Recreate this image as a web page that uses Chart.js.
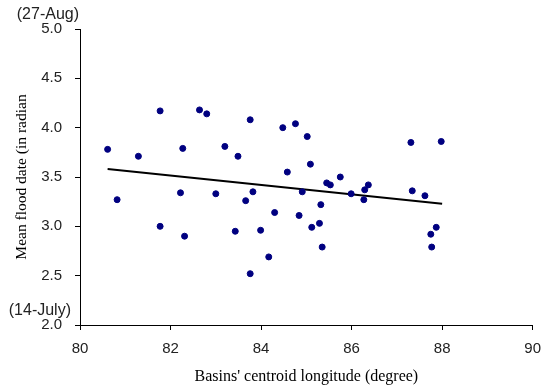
<!DOCTYPE html>
<html>
<head>
<meta charset="utf-8">
<script src="https://cdn.jsdelivr.net/npm/chart.js@4/dist/chart.umd.min.js"></script>
<style>
  html, body { margin: 0; padding: 0; background: #fff; }
  #wrap { width: 551px; height: 392px; }
</style>
</head>
<body>
<div id="wrap"><canvas id="chart" width="551" height="392"></canvas></div>
<script>
// basin centroid longitude (degree) vs mean flood date (radian)
var longitude = [80.61, 80.82, 81.29, 81.77, 81.77, 82.27, 82.22, 82.31, 82.64, 82.80,
  83.00, 83.20, 83.43, 83.49, 83.66, 83.76, 83.76, 83.82, 83.99, 84.17,
  84.30, 84.48, 84.58, 84.76, 84.84, 84.91, 85.02, 85.09, 85.12, 85.29,
  85.32, 85.35, 85.45, 85.53, 85.75, 85.99, 86.27, 86.29, 86.37, 87.31,
  87.34, 87.62, 87.75, 87.77, 87.87, 87.98]
var floodDate = [3.78, 3.27, 3.71, 3.00, 4.17, 3.79, 3.34, 2.90, 4.18, 4.14,
  3.33, 3.81, 2.95, 3.71, 3.26, 4.08, 2.52, 3.35, 2.96, 2.69,
  3.14, 4.00, 3.55, 4.04, 3.11, 3.35, 3.91, 3.63, 2.99, 3.03,
  3.22, 2.79, 3.44, 3.42, 3.50, 3.33, 3.27, 3.37, 3.42, 3.85,
  3.36, 3.31, 2.92, 2.79, 2.99, 3.86]

// fitted trend line end points
var trendX = [80.61, 88.0]
var trendY = [3.58, 3.23]

var xTicks = [80, 82, 84, 86, 88, 90]
var yTicks = [2.0, 2.5, 3.0, 3.5, 4.0, 4.5, 5.0]
var dateNotes = [{ value: 5.0, text: '(27-Aug)', shift: 1 }, { value: 2.0, text: '(14-July)', shift: 9 }]

var points = longitude.map(function (x, i) { return { x: x, y: floodDate[i] } })
var trend = trendX.map(function (x, i) { return { x: x, y: trendY[i] } })

var tickFont = { family: 'Liberation Sans, Arial, sans-serif', size: 15 }

// draws the date notes above the first and last y ticks
var dateLabels = {
  id: 'dateLabels',
  afterDraw: function (chart) {
    var c = chart.ctx
    var y = chart.scales.y
    c.save()
    c.font = '16px Liberation Sans, Arial, sans-serif'
    c.fillStyle = '#222'
    c.textAlign = 'right'
    c.textBaseline = 'middle'
    dateNotes.forEach(function (n) {
      c.fillText(n.text, chart.chartArea.left - n.shift, y.getPixelForValue(n.value) - 14)
    })
    c.restore()
  }
}

new Chart(document.getElementById('chart'), {
  type: 'scatter',
  data: {
    datasets: [
      {
        data: points,
        backgroundColor: '#000080',
        borderColor: '#000080',
        pointRadius: 3,
        pointHoverRadius: 3
      },
      {
        type: 'line',
        data: trend,
        borderColor: '#000',
        borderWidth: 2,
        pointRadius: 0,
        fill: false
      }
    ]
  },
  options: {
    responsive: false,
    animation: false,
    layout: { padding: { top: 29, right: 12, left: 0, bottom: 0 } },
    plugins: { legend: { display: false }, tooltip: { enabled: false } },
    scales: {
      x: {
        type: 'linear',
        min: 80,
        max: 90,
        afterBuildTicks: function (s) { s.ticks = xTicks.map(function (v) { return { value: v } }) },
        afterFit: function (s) { s.height = 67 },
        border: { color: '#000', width: 1 },
        grid: { drawOnChartArea: false, tickLength: 5, color: '#000' },
        ticks: { font: tickFont, color: '#222', padding: 10, maxRotation: 0 },
        title: {
          display: true,
          text: "Basins' centroid longitude (degree)",
          font: { family: 'Liberation Serif, Times New Roman, serif', size: 16 },
          color: '#000',
          padding: { top: 0, bottom: 6 }
        }
      },
      y: {
        type: 'linear',
        min: 2,
        max: 5,
        afterBuildTicks: function (s) { s.ticks = yTicks.map(function (v) { return { value: v } }) },
        afterFit: function (s) { s.width = 80 },
        border: { color: '#000', width: 1 },
        grid: { drawOnChartArea: false, tickLength: 5, color: '#000' },
        ticks: {
          font: tickFont,
          color: '#222',
          padding: 13,
          callback: function (v) { return Number(v).toFixed(1) }
        },
        title: {
          display: true,
          text: 'Mean flood date (in radian',
          font: { family: 'Liberation Serif, Times New Roman, serif', size: 15.5 },
          color: '#000',
          padding: { top: 13, bottom: 0 }
        }
      }
    }
  },
  plugins: [dateLabels]
})
</script>
</body>
</html>
